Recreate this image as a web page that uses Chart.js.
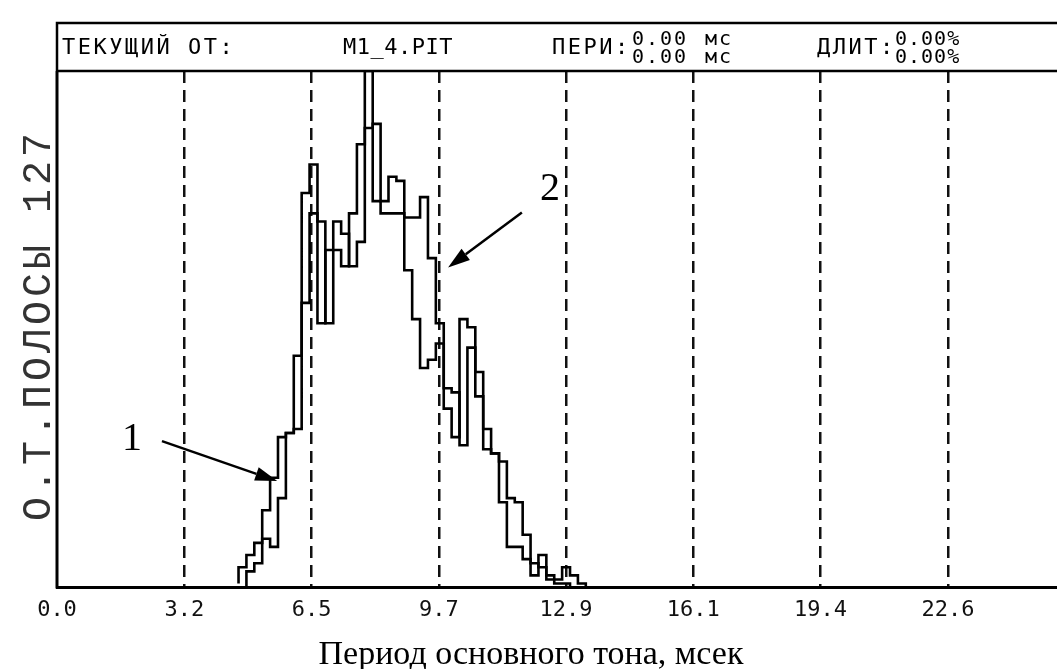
<!DOCTYPE html>
<html>
<head>
<meta charset="utf-8">
<script src="https://cdn.jsdelivr.net/npm/chart.js@4.4.1/dist/chart.umd.min.js"></script>
<style>
  html, body { margin: 0; padding: 0; background: #fff; overflow: hidden; }
</style>
</head>
<body>
<canvas id="pitchChart" width="1057" height="669"></canvas>
<script>
// left edge of each histogram bin, ms (last one closes the outline)
const periods = [4.6, 4.8, 5.0, 5.2, 5.4, 5.6, 5.8, 6.0, 6.2, 6.4, 6.6, 6.8, 7.0, 7.2, 7.4, 7.6,
  7.8, 8.0, 8.2, 8.4, 8.6, 8.8, 9.0, 9.2, 9.4, 9.6, 9.8, 10.0, 10.2, 10.4, 10.6, 10.8, 11.0,
  11.2, 11.4, 11.6, 11.8, 12.0, 12.2, 12.4, 12.6, 12.8, 13.0, 13.2, 13.4, 13.6];

// curve 1
const counts1 = [1, 5, 8, 11, 19, 27, 37, 38, 57, 97, 104, 90, 65, 83, 79, 92, 109, 127, 95, 92,
  92, 92, 91, 91, 96, 81, 65, 44, 37, 66, 64, 53, 39, 33, 31, 22, 21, 13, 6, 5, 3, 1, 1, 0, 0, 0];
// curve 2
const counts2 = [0, 0, 4, 6, 12, 10, 22, 38, 39, 70, 92, 65, 83, 90, 87, 79, 85, 113, 114, 95,
  101, 100, 78, 66, 54, 56, 60, 49, 48, 35, 59, 47, 34, 33, 21, 10, 10, 7, 3, 8, 2, 2, 5, 3, 1, 0];

const xTicks = [0, 3.225, 6.45, 9.675, 12.9, 16.125, 19.35, 22.575];
const xTickLabels = ['0.0', '3.2', '6.5', '9.7', '12.9', '16.1', '19.4', '22.6'];

const yLabel = 'О.Т.ПОЛОСЫ 127';
const xTitle = 'Период основного тона, мсек';

// arrows with numbers, in data units
const notes = [
  { text: '1', at: [1.9, 36.5], from: [2.66, 36.0], to: [5.58, 26.2] },
  { text: '2', at: [12.49, 97.8], from: [11.78, 92.2], to: [9.91, 78.7] }
];

const mono = '"DejaVu Sans Mono", monospace';

function toPoints(counts) {
  return periods.map((p, i) => ({ x: p, y: counts[i] }));
}

function arrow(ctx, x1, y1, x2, y2) {
  const ang = Math.atan2(y2 - y1, x2 - x1);
  const len = 22, half = 7;
  const bx = x2 - Math.cos(ang) * len, by = y2 - Math.sin(ang) * len;
  ctx.beginPath();
  ctx.moveTo(x1, y1);
  ctx.lineTo(bx, by);
  ctx.stroke();
  ctx.beginPath();
  ctx.moveTo(x2, y2);
  ctx.lineTo(bx + Math.sin(ang) * half, by - Math.cos(ang) * half);
  ctx.lineTo(bx - Math.sin(ang) * half, by + Math.cos(ang) * half);
  ctx.closePath();
  ctx.fill();
}

const framePlugin = {
  id: 'frame',
  afterDraw(chart) {
    const { ctx, chartArea: a, scales: { x, y } } = chart;
    ctx.save();
    ctx.strokeStyle = '#000';
    ctx.fillStyle = '#000';

    // header box
    ctx.lineWidth = 2.5;
    ctx.beginPath();
    ctx.moveTo(a.left, a.top);
    ctx.lineTo(a.left, 23);
    ctx.lineTo(chart.width, 23);
    ctx.moveTo(a.left, a.top);
    ctx.lineTo(chart.width, a.top);
    ctx.stroke();

    // left axis line
    ctx.lineWidth = 3;
    ctx.beginPath();
    ctx.moveTo(a.left, a.top);
    ctx.lineTo(a.left, a.bottom + 1);
    ctx.stroke();

    // header text
    ctx.textBaseline = 'alphabetic';
    ctx.textAlign = 'left';
    ctx.font = '22px ' + mono;
    ctx.letterSpacing = '2.5px';
    ctx.fillText('ТЕКУЩИЙ ОТ:', 62, 54);
    ctx.fillText('ПЕРИ:', 552, 54);
    ctx.fillText('ДЛИТ:', 817, 54);
    ctx.letterSpacing = '0.5px';
    ctx.fillText('M1_4.PIT', 343, 54);
    ctx.font = '20px ' + mono;
    ctx.letterSpacing = '2px';
    ctx.fillText('0.00', 632, 45);
    ctx.fillText('0.00', 632, 63);
    ctx.fillText('мс', 705, 45);
    ctx.fillText('мс', 705, 63);
    ctx.letterSpacing = '1px';
    ctx.fillText('0.00%', 895, 45);
    ctx.fillText('0.00%', 895, 63);

    // rotated y label
    ctx.save();
    ctx.translate(50, 325);
    ctx.rotate(-Math.PI / 2);
    ctx.font = '40px "Liberation Mono", monospace';
    ctx.letterSpacing = '4px';
    ctx.fillStyle = '#333';
    ctx.textAlign = 'center';
    ctx.fillText(yLabel, 0, 0);
    ctx.restore();

    // x title
    ctx.letterSpacing = '0px';
    ctx.font = '34px "Liberation Serif", serif';
    ctx.textAlign = 'center';
    ctx.textBaseline = 'middle';
    ctx.fillText(xTitle, 531, 655);

    // numbered arrows
    ctx.lineWidth = 2.5;
    ctx.font = '40px "Liberation Serif", serif';
    notes.forEach(n => {
      ctx.fillText(n.text, x.getPixelForValue(n.at[0]), y.getPixelForValue(n.at[1]));
      arrow(ctx,
        x.getPixelForValue(n.from[0]), y.getPixelForValue(n.from[1]),
        x.getPixelForValue(n.to[0]), y.getPixelForValue(n.to[1]));
    });
    ctx.restore();
  }
};

const ctx = document.getElementById('pitchChart');
new Chart(ctx, {
  type: 'line',
  data: {
    datasets: [
      {
        label: '1',
        data: toPoints(counts1),
        stepped: 'after',
        borderColor: '#000',
        borderWidth: 2.6,
        pointRadius: 0,
        fill: false
      },
      {
        label: '2',
        data: toPoints(counts2),
        stepped: 'after',
        borderColor: '#000',
        borderWidth: 2.6,
        pointRadius: 0,
        fill: false
      }
    ]
  },
  options: {
    responsive: false,
    animation: false,
    devicePixelRatio: 1,
    layout: { padding: { left: 57, top: 71, right: 0, bottom: 37 } },
    plugins: {
      legend: { display: false },
      tooltip: { enabled: false }
    },
    scales: {
      x: {
        type: 'linear',
        min: 0,
        max: 25.34,
        afterBuildTicks: (scale) => {
          scale.ticks = xTicks.map(v => ({ value: v }));
        },
        ticks: {
          autoSkip: false,
          maxRotation: 0,
          padding: 9,
          color: '#111',
          font: { family: 'DejaVu Sans Mono', size: 22 },
          callback: (value, index) => xTickLabels[index]
        },
        grid: {
          drawTicks: false,
          lineWidth: 2.5,
          color: (c) => c.index === 0 ? 'rgba(0,0,0,0)' : '#111'
        },
        border: { display: true, color: '#000', width: 3, dash: [12, 7] }
      },
      y: {
        display: false,
        min: 0,
        max: 127
      }
    }
  },
  plugins: [framePlugin]
});
</script>
</body>
</html>
